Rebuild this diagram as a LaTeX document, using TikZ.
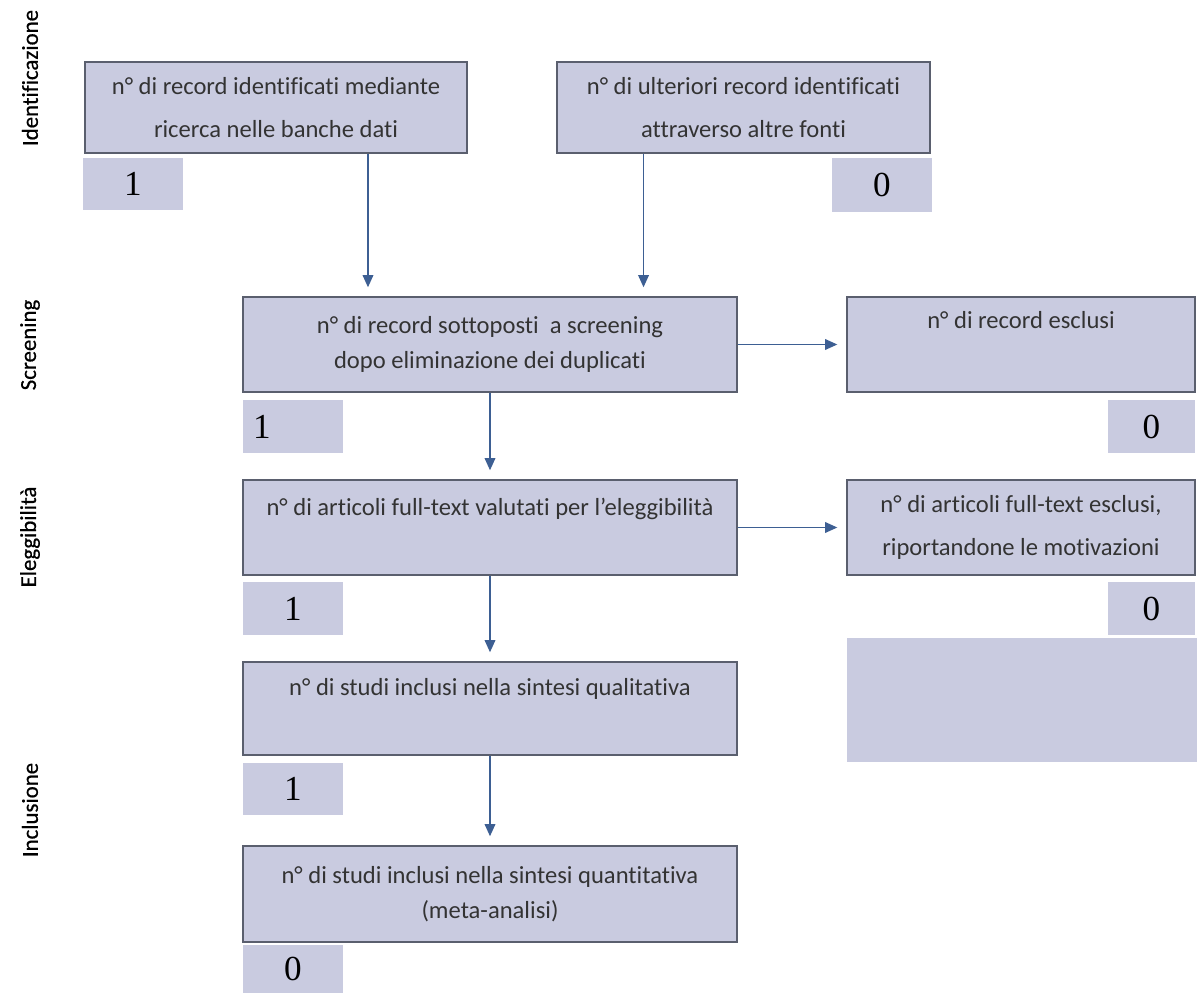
\documentclass[tikz,border=0pt]{standalone}
\usepackage{fontspec}
\setmainfont[Ligatures=CommonOff]{Carlito}
\newfontfamily\numfont{Liberation Serif}
\newfontfamily\fasefont[Ligatures=CommonOff, FakeBold=0.6]{Carlito}
\usetikzlibrary{arrows.meta}
\definecolor{boxfill}{HTML}{C9CBE0}
\definecolor{boxline}{HTML}{5A5F6E}
\definecolor{arrowblue}{HTML}{3D5F93}
\definecolor{testo}{HTML}{333333}
\begin{document}
\begin{tikzpicture}[x=0.02cm, y=-0.02cm,
    box/.style={draw=boxline, line width=1pt, fill=boxfill, align=center,
        text=testo, font=\fontsize{14}{20}\selectfont, inner sep=0pt},
    conta/.style={fill=boxfill, inner sep=0pt, text=black,
        font=\numfont\fontsize{20}{22}\selectfont},
    fase/.style={rotate=90, text=black, font=\fasefont\fontsize{13}{16}\selectfont},
    freccia/.style={-{Triangle[length=7pt,width=6pt]}, arrowblue, line width=1.1pt}]

        \useasboundingbox (0,0) rectangle (1197,993);

        % 1. Etichette delle fasi (testo verticale)
        \node[fase] (fIdent) at (30,78) {Identificazione};
        \node[fase] (fScreen) at (30,345) {Screening};
        \node[fase] (fElig) at (30,537) {Eleggibilità};
        \node[fase] (fIncl) at (30,810) {Inclusione};

        % 2. Identificazione
        \node[box, minimum width=7.64cm, minimum height=1.82cm] (banche) at (276,107.5)
            {n° di record identificati mediante\\[4pt]ricerca nelle banche dati};
        \node[conta, minimum width=2cm, minimum height=1.04cm] (nBanche) at (133,184) {1};
        \node[box, minimum width=7.46cm, minimum height=1.82cm] (fonti) at (743.5,107.5)
            {n° di ulteriori record identificati\\[4pt]attraverso altre fonti};
        \node[conta, minimum width=2cm, minimum height=1.08cm] (nFonti) at (882,185) {0};

        % 3. Screening
        \node[box, minimum width=9.88cm, minimum height=1.9cm] (screen) at (490,344.5)
            {n° di record sottoposti \ a screening\\dopo eliminazione dei duplicati};
        \node[conta, minimum width=2cm, minimum height=1.06cm, text width=1.6cm, align=left] (nScreen) at (293,426.5) {1};
        \node[box, minimum width=6.96cm, minimum height=1.9cm] (esclusi) at (1021,344.5)
            {n° di record esclusi\\[8pt]~};
        \node[conta, minimum width=1.74cm, minimum height=1.06cm] (nEsclusi) at (1151.5,426.5) {0};

        % 4. Eleggibilita'
        \node[box, minimum width=9.88cm, minimum height=1.9cm] (fulltext) at (490,527.5)
            {n° di articoli full-text valutati per l’eleggibilità\\[4pt]~};
        \node[conta, minimum width=2cm, minimum height=1.06cm] (nFulltext) at (293,608.5) {1};
        \node[box, minimum width=6.96cm, minimum height=1.9cm] (ftEsclusi) at (1021,527.5)
            {n° di articoli full-text esclusi,\\[4pt]riportandone le motivazioni};
        \node[conta, minimum width=1.74cm, minimum height=1.06cm] (nFtEsclusi) at (1151.5,608.5) {0};
        \node[conta, minimum width=7cm, minimum height=2.48cm] (vuoto) at (1022,700) {};

        % 5. Inclusione
        \node[box, minimum width=9.88cm, minimum height=1.86cm] (quali) at (490,708.5)
            {n° di studi inclusi nella sintesi qualitativa\\[4pt]~};
        \node[conta, minimum width=2cm, minimum height=1.04cm] (nQuali) at (293,789) {1};
        \node[box, minimum width=9.88cm, minimum height=1.92cm] (quanti) at (490,894)
            {n° di studi inclusi nella sintesi quantitativa\\(meta-analisi)};
        \node[conta, minimum width=2cm, minimum height=0.96cm] (nQuanti) at (293,969) {0};

        % 6. Frecce verticali
        \draw[freccia, shorten >=5pt] ([xshift=1.84cm]banche.south) -- ([xshift=1.84cm]banche.south |- screen.north);
        \draw[freccia, shorten >=5pt] ([xshift=-2cm]fonti.south) -- ([xshift=-2cm]fonti.south |- screen.north);
        \draw[freccia, shorten >=5pt] (screen) -- (fulltext);
        \draw[freccia, shorten >=5pt] (fulltext) -- (quali);
        \draw[freccia, shorten >=5pt] (quali) -- (quanti);

        % 7. Frecce orizzontali verso gli esclusi
        \draw[freccia, shorten >=5pt] (screen) -- (esclusi);
        \draw[freccia, shorten >=5pt] (fulltext) -- (ftEsclusi);
    \end{tikzpicture}
\end{document}
